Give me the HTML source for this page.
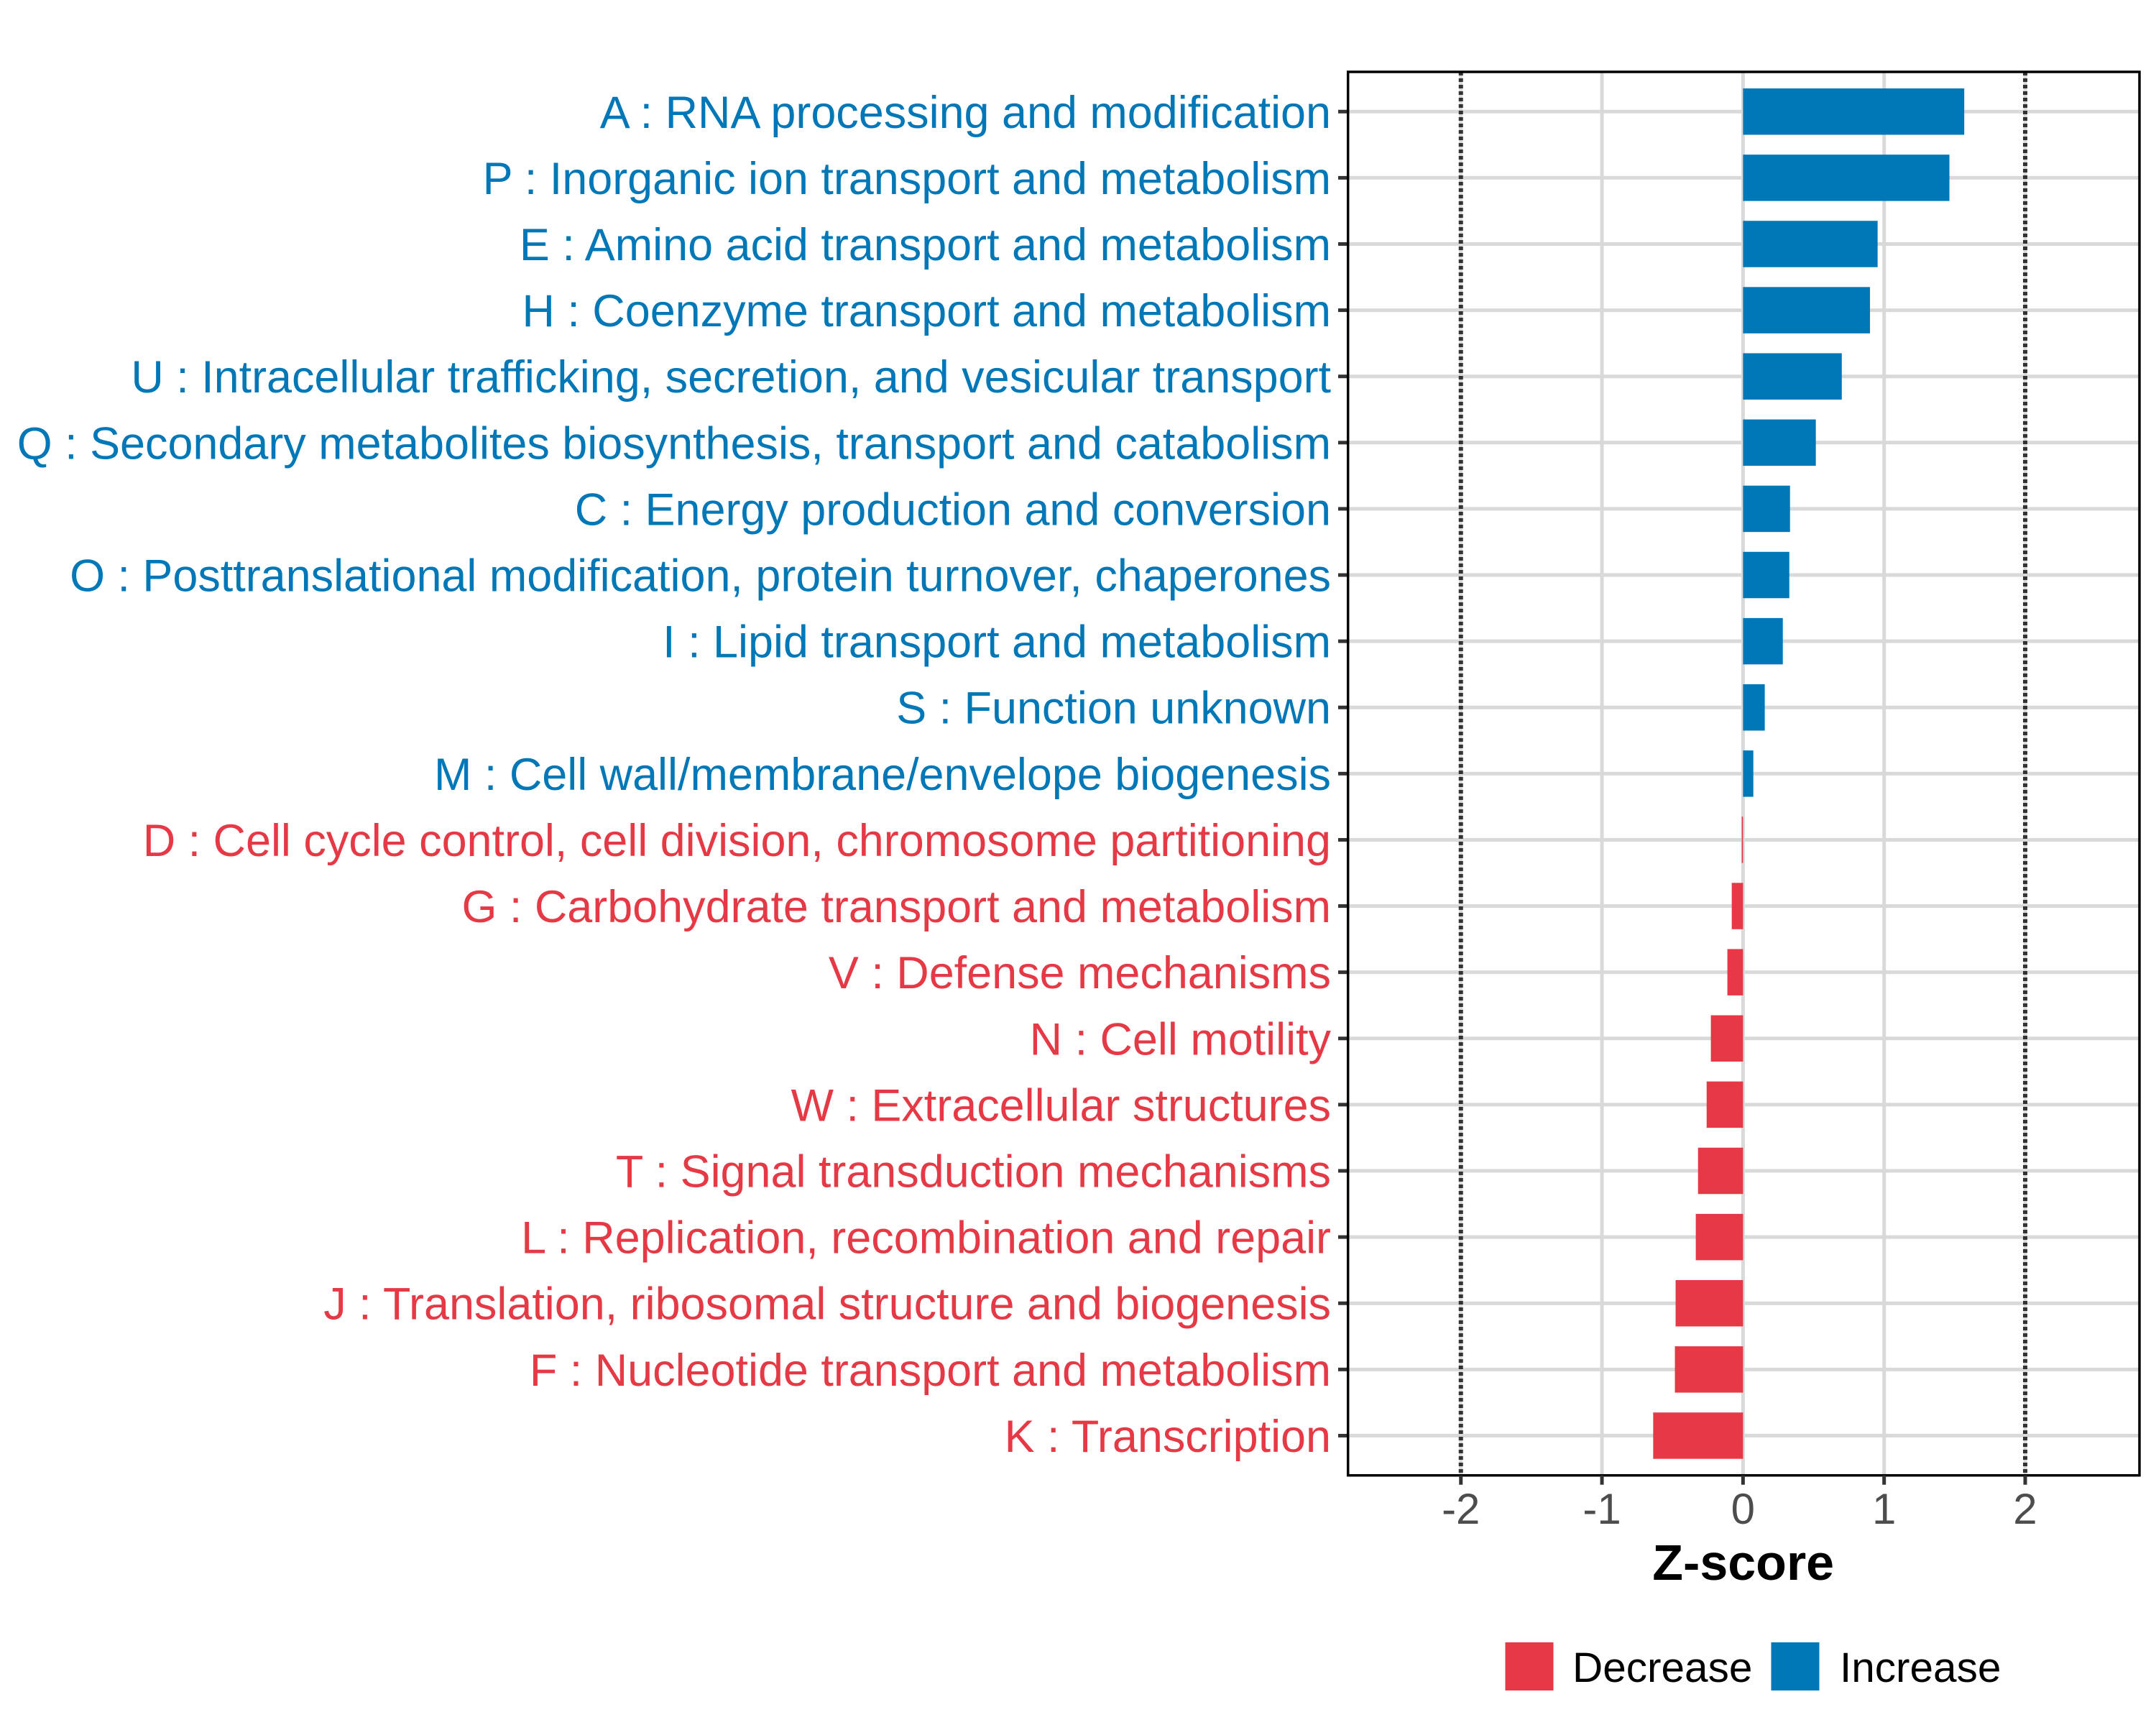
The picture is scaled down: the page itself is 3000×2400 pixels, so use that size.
<!DOCTYPE html>
<html><head><meta charset="utf-8"><style>
html,body{margin:0;padding:0;background:#fff;}
svg{display:block;font-family:"Liberation Sans",Arial,sans-serif;}
</style></head><body>
<svg id="chart" width="3000" height="2400" viewBox="0 0 3000 2400" xmlns="http://www.w3.org/2000/svg">
<rect x="0" y="0" width="3000" height="2400" fill="#fff"/>
<g id="grid"></g>
<g id="bars"></g>
<g id="ylabels"></g>
<g id="xaxis"></g>
<text x="2425.7" y="2198" text-anchor="middle" font-size="70" font-weight="bold" fill="#000">Z-score</text>
<g>
<rect x="2094.5" y="2285" width="67" height="67" fill="#E63946"/>
<text x="2188" y="2340" font-size="58.5" fill="#000">Decrease</text>
<rect x="2464.5" y="2285" width="67" height="67" fill="#0077B6"/>
<text x="2560" y="2340" font-size="58.5" fill="#000">Increase</text>
</g>
</svg>
<script>
const categories = [
"A : RNA processing and modification",
"P : Inorganic ion transport and metabolism",
"E : Amino acid transport and metabolism",
"H : Coenzyme transport and metabolism",
"U : Intracellular trafficking, secretion, and vesicular transport",
"Q : Secondary metabolites biosynthesis, transport and catabolism",
"C : Energy production and conversion",
"O : Posttranslational modification, protein turnover, chaperones",
"I : Lipid transport and metabolism",
"S : Function unknown",
"M : Cell wall/membrane/envelope biogenesis",
"D : Cell cycle control, cell division, chromosome partitioning",
"G : Carbohydrate transport and metabolism",
"V : Defense mechanisms",
"N : Cell motility",
"W : Extracellular structures",
"T : Signal transduction mechanisms",
"L : Replication, recombination and repair",
"J : Translation, ribosomal structure and biogenesis",
"F : Nucleotide transport and metabolism",
"K : Transcription"];
const zscores = [1.568,1.463,0.954,0.900,0.700,0.516,0.333,0.328,0.282,0.154,0.073,-0.009,-0.080,-0.111,-0.228,-0.258,-0.319,-0.335,-0.478,-0.483,-0.637];
const xTicks = [-2,-1,0,1,2];
const xTickLabels = ["-2","-1","0","1","2"];
const thresholds = [-2,2];

const NS="http://www.w3.org/2000/svg";
const P={left:1875.7,right:2977,top:100,bottom:2052.7};
const xMin=-2.8,xMax=2.81;
const x=v=>P.left+(v-xMin)/(xMax-xMin)*(P.right-P.left);
const n=categories.length;
const step=(P.bottom-P.top)/(n-1+1.2);
const y=i=>P.top+step*(0.6+i);
const BLUE="#0077B6",RED="#E63946";
function mk(tag,attrs,parent){const e=document.createElementNS(NS,tag);for(const k in attrs)e.setAttribute(k,attrs[k]);parent.appendChild(e);return e;}
const grid=document.getElementById('grid'),bars=document.getElementById('bars'),yl=document.getElementById('ylabels'),xa=document.getElementById('xaxis');
xTicks.forEach((t,i)=>{
  const l=mk('line',{x1:x(t),x2:x(t),y1:P.top,y2:P.bottom,stroke:'#d9d9d9','stroke-width':5},grid);
  
  
});
categories.forEach((c,i)=>{
  const l=mk('line',{x1:P.left,x2:P.right,y1:y(i),y2:y(i),stroke:'#d9d9d9','stroke-width':5},grid);
  
  
});
thresholds.forEach(t=>{
  const l=mk('line',{x1:x(t),x2:x(t),y1:P.top,y2:P.bottom,stroke:'#333','stroke-width':6,'stroke-dasharray':'5 4'},grid);
  
  
});
const bh=step*0.7;
zscores.forEach((v,i)=>{
  const x0=Math.min(x(0),x(v)),w=Math.abs(x(v)-x(0));
  const r=mk('rect',{x:x0,y:y(i)-bh/2,width:Math.max(w,0.5),height:bh,fill:v>=0?BLUE:RED},bars);
  
  
  const t=mk('text',{x:1852,y:y(i)+22.5,'text-anchor':'end','font-size':62.9,fill:v>=0?BLUE:RED},yl);
  t.textContent=categories[i];
  
  
  const tk=mk('line',{x1:1862,x2:P.left,y1:y(i),y2:y(i),stroke:'#333','stroke-width':5},yl);
  
  
});
const b=mk('rect',{x:P.left,y:P.top,width:P.right-P.left,height:P.bottom-P.top,fill:'none',stroke:'#000','stroke-width':3.5},xa);


xTicks.forEach((t,i)=>{
  const l=mk('line',{x1:x(t),x2:x(t),y1:P.bottom,y2:P.bottom+13,stroke:'#333','stroke-width':5},xa);
  
  
  const tx=mk('text',{x:x(t),y:2120,'text-anchor':'middle','font-size':60,fill:'#4d4d4d'},xa);
  tx.textContent=xTickLabels[i];
  
  
});
</script>
</body></html>
